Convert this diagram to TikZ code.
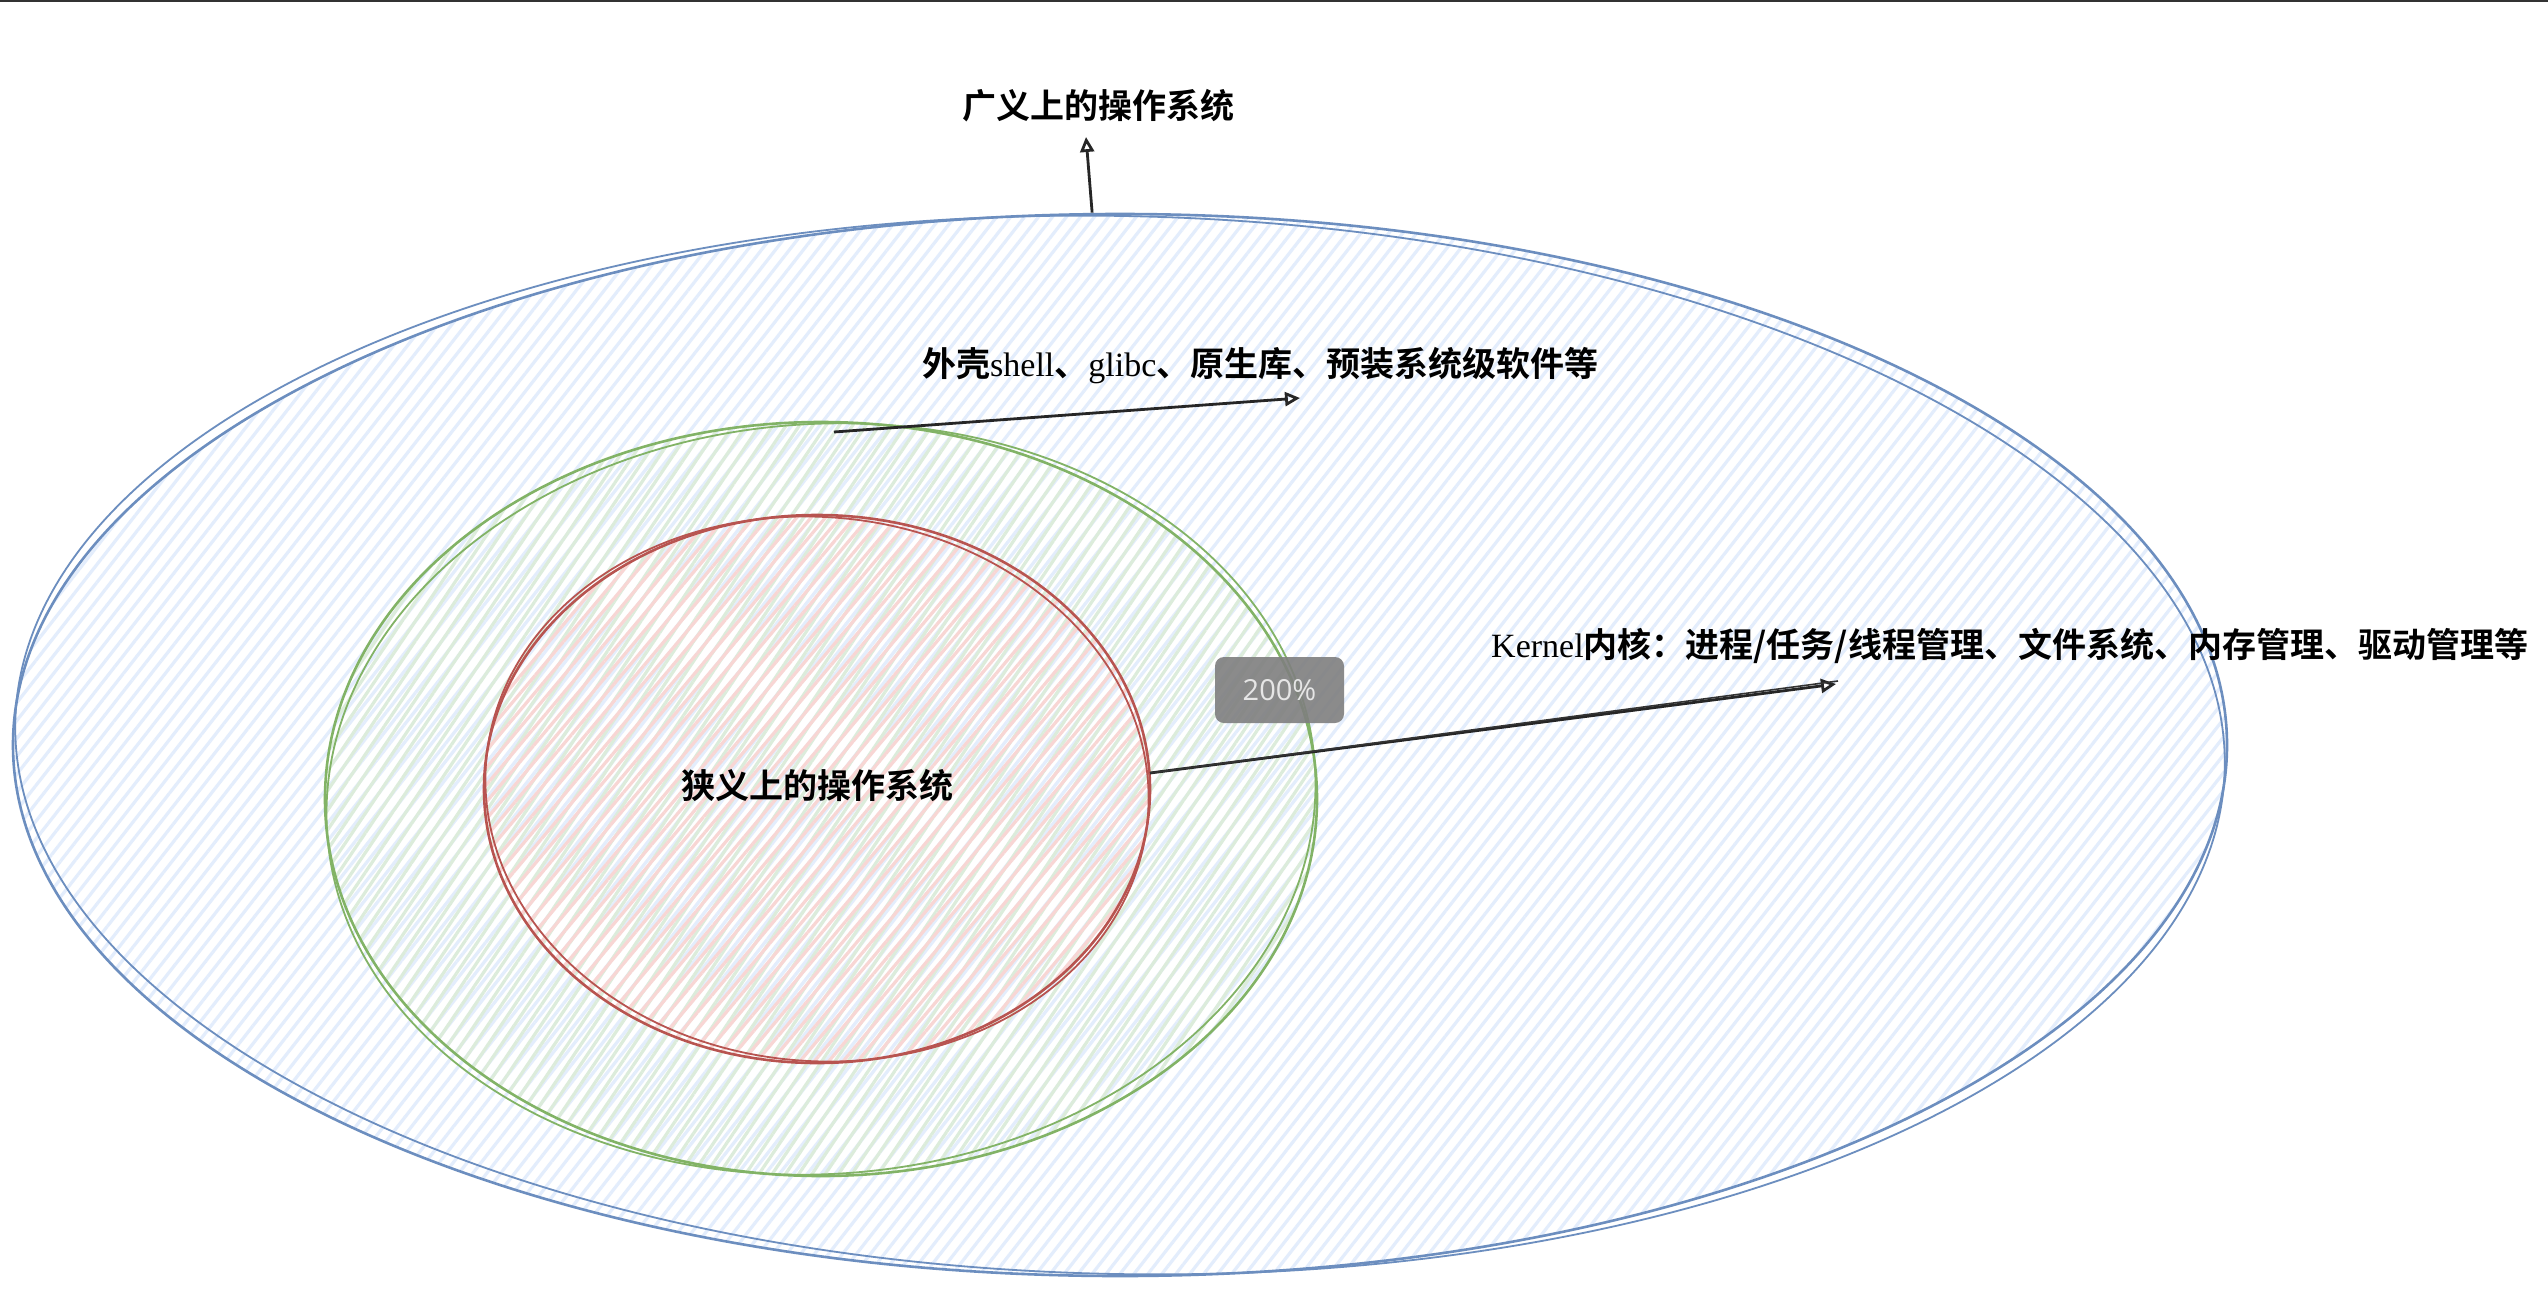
\documentclass[tikz,border=0pt]{standalone}
\usepackage{fontspec}
\setmainfont{Liberation Serif}
\newfontfamily\cjk{Noto Sans CJK SC}[BoldFont={Noto Sans CJK SC Bold}]
\newfontfamily\badgefont{Open Sans}
\usetikzlibrary{shapes.geometric,patterns.meta,arrows.meta}
\definecolor{blueS}{HTML}{6C8EBF}
\definecolor{blueH}{HTML}{E3EDFC}
\definecolor{greenS}{HTML}{82B366}
\definecolor{greenH}{HTML}{DCECDB}
\definecolor{redS}{HTML}{B85450}
\definecolor{redH}{HTML}{F8D6D4}
\definecolor{topline}{HTML}{333333}
\definecolor{badgebg}{HTML}{7F7F7F}
\definecolor{badgetxt}{HTML}{E6E6E6}
\tikzset{
  ring/.style={ellipse, inner sep=0pt, line width=2.6pt},
  sketchline/.style={line width=1.8pt},
  lbl/.style={inner sep=0pt, text=black, font=\fontsize{34}{40}\selectfont},
  conn/.style={line width=2.8pt, black!85, -{Triangle[open, length=15pt, width=14pt, line width=2.8pt]}},
  badge/.style={rounded corners=9pt, fill=badgebg, fill opacity=0.9, text opacity=1, text=badgetxt, minimum width=129pt, minimum height=66pt, inner sep=0pt, font=\badgefont\fontsize{29}{34}\selectfont}
}
\begin{document}
\begin{tikzpicture}[x=1pt,y=-1pt]
\useasboundingbox (0,0) rectangle (2548,1296);
\fill[white] (0,0) rectangle (2548,1296);
\draw[line width=2.5pt, topline] (0,1) -- (2548,1);

% outer ellipse
\node[ring, draw=blueS, pattern={Lines[angle=52,distance=11pt,line width=3.2pt]}, pattern color=blueH,
      minimum width=2214pt, minimum height=1062pt] (outer) at (1120,745) {};
\draw[sketchline, blueS, rotate around={-1.2:(1120,745)}] (1120,745) ellipse [x radius=1105pt, y radius=529pt];

% green circle
\node[ring, draw=greenS, pattern={Lines[angle=56,distance=11pt,line width=3.2pt]}, pattern color=greenH,
      minimum width=992pt, minimum height=754pt] (green) at (821,799) {};
\draw[sketchline, greenS, rotate around={4:(821,799)}] (821,799) ellipse [x radius=495pt, y radius=375pt];

% red circle
\node[ring, draw=redS, pattern={Lines[angle=50,distance=11pt,line width=3.2pt]}, pattern color=redH,
      minimum width=666pt, minimum height=548pt] (red) at (817,789) {};
\draw[sketchline, redS, rotate around={-5:(817,789)}] (817,789) ellipse [x radius=332pt, y radius=272pt];

% labels
\node[lbl] (topL) at (1098,106) {\cjk\bfseries 广义上的操作系统};
\node[lbl] (innerL) at (817,785) {\cjk\bfseries 狭义上的操作系统};
\node[lbl, anchor=west] (shellL) at (922,366) {{\cjk\bfseries 外壳}shell{\cjk\bfseries 、}glibc{\cjk\bfseries 、原生库、预装系统级软件等}};
\node[lbl, anchor=west] (kernelL) at (1491,646) {Kernel{\cjk\bfseries 内核：进程/任务/线程管理、文件系统、内存管理、驱动管理等}};

% connectors
\coordinate (topTip) at (1086,137);
\coordinate (shellStart) at (834,432);
\coordinate (shellTip) at (1300,398);
\coordinate (kernStart) at (1150,773);
\coordinate (kernTip) at (1836,684);
\draw[conn] (outer.93.4) -- (topTip);
\draw[conn] (shellStart) -- (shellTip);
\draw[conn] (kernStart) -- (kernTip);
\draw[line width=1.6pt, black!80] (kernStart) -- ([shift={(2pt,3pt)}]kernTip);

% zoom badge
\node[badge] (zoomBadge) at (1279.5,690) {200\%};
\end{tikzpicture}
\end{document}
